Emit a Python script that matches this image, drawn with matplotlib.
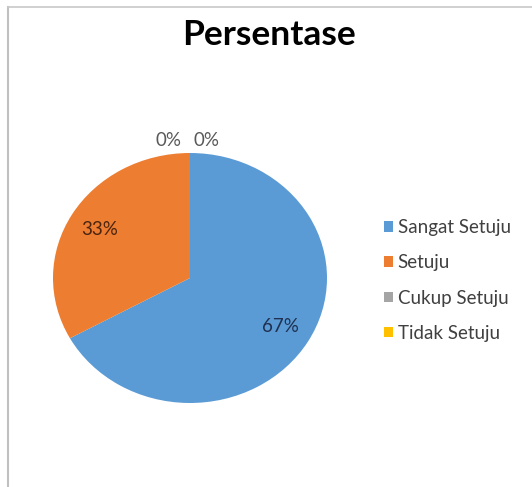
import matplotlib
matplotlib.use("Agg")
import matplotlib.pyplot as plt
from matplotlib.lines import Line2D

plt.rcParams["font.family"] = ["Lato", "DejaVu Sans"]

title = "Persentase"
categories = ["Sangat Setuju", "Setuju", "Cukup Setuju", "Tidak Setuju"]
values = [67, 33, 0, 0]
colors = ["#5B9BD5", "#ED7D31", "#A5A5A5", "#FFC000"]
label_colors = ["#1F3050", "#4A2410", "#595959", "#595959"]

W, H = 532, 487
fig = plt.figure(figsize=(W / 100, H / 100), dpi=100)

# chart frame (left and top edges visible in the screenshot)
fig.add_artist(Line2D([8 / W, 8 / W], [0, 1 - 7 / H], color="#c0c0c0", lw=1.5))
fig.add_artist(Line2D([8 / W, 1], [1 - 7 / H, 1 - 7 / H], color="#c8c8c8", lw=1.2))

fig.text(269 / W, 1 - 35 / H, title, ha="center", va="center",
         fontsize=25.5, fontweight="bold", color="#000000")

# pie area (screenshot is slightly stretched horizontally)
cx, cy, rx, ry = 190, 278, 137, 125
ax = fig.add_axes([(cx - rx) / W, 1 - (cy + ry) / H, 2 * rx / W, 2 * ry / H])
wedges, texts, autotexts = ax.pie(
    values, colors=colors, startangle=90, counterclock=False,
    autopct=lambda p: f"{p:.0f}%", pctdistance=0.77,
    wedgeprops=dict(linewidth=0), textprops=dict(fontsize=13.5),
)
ax.set_aspect("auto")
ax.set_xlim(-1, 1)
ax.set_ylim(-1, 1)

zero_offsets = [-0.16, 0.12]
k = 0
for t, v, c in zip(autotexts, values, label_colors):
    t.set_color(c)
    if v == 0:
        t.set_position((zero_offsets[k], 1.1))
        k += 1

fig.legend(wedges, categories, loc="center left",
           bbox_to_anchor=(384 / W, 1 - 280.5 / H), frameon=False,
           borderpad=0, borderaxespad=0,
           fontsize=13.5, handlelength=0.5, handleheight=0.5,
           handletextpad=0.22, labelspacing=0.97, labelcolor="#404040")

fig.savefig("out.png", dpi=100)
